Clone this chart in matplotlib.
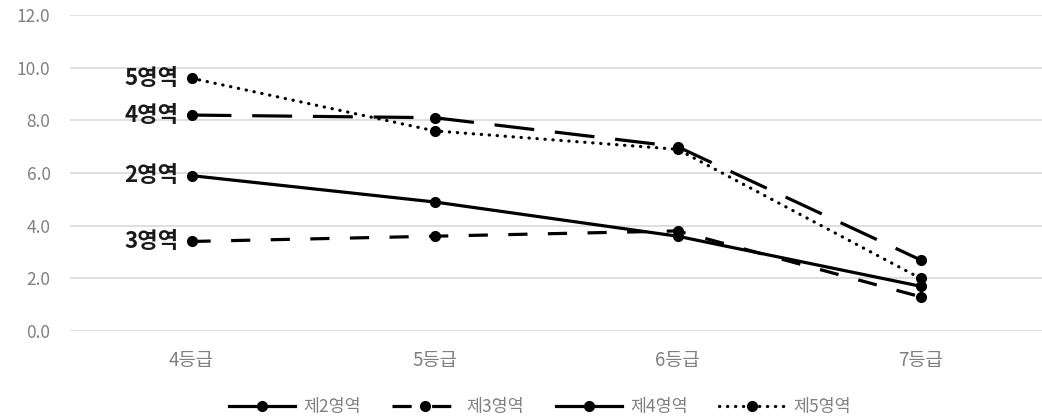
import matplotlib
matplotlib.use("Agg")
import matplotlib.pyplot as plt

plt.rcParams['font.family'] = ['Noto Sans CJK KR', 'DejaVu Sans']

grades = ["4등급", "5등급", "6등급", "7등급"]
series_names = ["제2영역", "제3영역", "제4영역", "제5영역"]
short_labels = ["2영역", "3영역", "4영역", "5영역"]
area2 = [5.9, 4.9, 3.6, 1.7]
area3 = [3.4, 3.6, 3.8, 1.3]
area4 = [8.2, 8.1, 7.0, 2.7]
area5 = [9.6, 7.6, 6.9, 2.0]
y_ticks = [0.0, 2.0, 4.0, 6.0, 8.0, 10.0, 12.0]

values = [area2, area3, area4, area5]
styles = [
    dict(linestyle='-'),
    dict(linestyle=(0, (6, 6.4))),
    dict(linestyle=(0, (12.5, 6.5))),
    dict(linestyle=(0, (0.1, 2.4)), dash_capstyle='round'),
]

fig = plt.figure(figsize=(10.42, 4.2), dpi=100)
ax = fig.add_axes([70 / 1042, 1 - 331 / 420, 1 - 70 / 1042, (331 - 15) / 420])

x = list(range(len(grades)))
for name, vals, st in zip(series_names, values, styles):
    ax.plot(x, vals, color='black', linewidth=2.3, marker='o', markersize=7,
            label=name, **st)

# Inline labels to the left of the first point of each series
for lab, vals in zip(short_labels, values):
    ax.text(x[0] - 0.055, vals[0], lab, ha='right', va='center',
            fontsize=16, fontweight='bold', color='#1a1a1a')

ax.set_xlim(-0.5, len(grades) - 0.5)
ax.set_ylim(0, 12)
ax.set_yticks(y_ticks)
ax.set_yticklabels([f"{v:.1f}" for v in y_ticks])
ax.set_xticks(x)
ax.set_xticklabels(grades)
ax.tick_params(axis='both', length=0, labelcolor='#808080')
ax.tick_params(axis='x', labelsize=13.5, pad=14)
ax.tick_params(axis='y', labelsize=12.5, pad=14)
ax.grid(axis='y', color='#d9d9d9', linewidth=1.2)
ax.set_axisbelow(True)
for sp in ax.spines.values():
    sp.set_visible(False)

leg = fig.legend(loc='center', bbox_to_anchor=(540 / 1042, 1 - 407 / 420), ncol=4,
                 frameon=False, fontsize=12.5, handlelength=3.8, columnspacing=1.8,
                 handletextpad=0.5)
for t in leg.get_texts():
    t.set_color('#808080')
# the long-dash key is drawn as a short solid stroke
leg.get_lines()[2].set_linestyle('-')

fig.savefig("out.png", dpi=100)
